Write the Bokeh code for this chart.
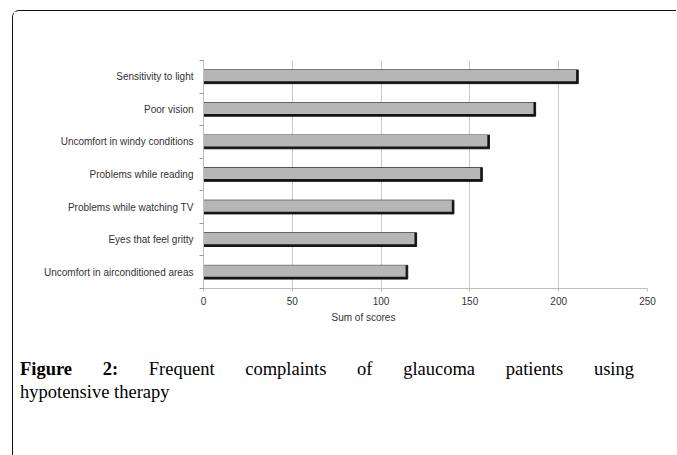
from bokeh.plotting import figure
from bokeh.models import Range1d, FixedTicker, Title, ColumnDataSource, Div
from bokeh.layouts import column
from bokeh.embed import file_html
from bokeh.resources import INLINE

categories = ["Sensitivity to light", "Poor vision", "Uncomfort in windy conditions",
              "Problems while reading", "Problems while watching TV",
              "Eyes that feel gritty", "Uncomfort in airconditioned areas"]
scores = [211, 187, 161, 157, 141, 120, 115]
x_ticks = [0, 50, 100, 150, 200, 250]
x_label = "Sum of scores"
caption_label = "Figure 2:"
caption_line1 = "Frequent complaints of glaucoma patients using"
caption_line2 = "hypotensive therapy"

PW, PH = 663, 322
n = len(categories)
centers = [n - i - 0.5 for i in range(n)]

bar_h = 0.42
src = ColumnDataSource(dict(
    y=centers, right=scores,
    top=[c + bar_h / 2 for c in centers],
    bottom=[c - bar_h / 2 + 0.07 for c in centers],
    gright=[s - 1.2 for s in scores],
))

p = figure(width=PW, height=PH, x_range=Range1d(0, 250), y_range=Range1d(0, n),
           output_backend="svg", toolbar_location=None,
           min_border_left=190, min_border_right=29, min_border_top=49, min_border_bottom=45)
p.outline_line_color = None
p.background_fill_color = "white"
p.border_fill_color = "white"

# bars: dark shadow + grey face
p.hbar(y="y", left=0, right="right", height=bar_h, source=src, color="#151515")
p.quad(left=0, right="gright", top="top", bottom="bottom", source=src,
       fill_color="#b6b6b6", line_color=None)

# grid
p.ygrid.visible = False
p.xgrid.ticker = FixedTicker(ticks=x_ticks)
p.xgrid.grid_line_color = "#c8c8c8"
p.xgrid.grid_line_width = 1

# x axis
xa = p.xaxis[0]
xa.ticker = FixedTicker(ticks=x_ticks)
xa.axis_line_color = "#bdbdbd"
xa.major_tick_line_color = "#bdbdbd"
xa.major_tick_out = 3
xa.major_tick_in = 0
xa.minor_tick_line_color = None
xa.major_label_standoff = 5
xa.major_label_text_font = "Liberation Sans"
xa.major_label_text_font_size = "10px"
xa.major_label_text_color = "#333333"

# y axis
ya = p.yaxis[0]
ya.ticker = FixedTicker(ticks=centers, minor_ticks=list(range(n + 1)))
ya.major_label_overrides = {c: name for c, name in zip(centers, categories)}
ya.major_tick_line_color = None
ya.major_tick_out = 0
ya.major_tick_in = 0
ya.minor_tick_line_color = "#9a9a9a"
ya.minor_tick_out = 4
ya.minor_tick_in = 0
ya.axis_line_color = "#bdbdbd"
ya.major_label_standoff = 6
ya.major_label_text_font = "Liberation Sans"
ya.major_label_text_font_size = "10px"
ya.major_label_text_color = "#333333"

# axis title, off-centre like the original
p.add_layout(Title(text=x_label, align="left", offset=128, standoff=5,
                   text_font="Liberation Sans", text_font_size="10px",
                   text_font_style="normal", text_color="#333333"), "below")

caption_html = (
    '<div style="width:614px; font-family:\'Liberation Serif\', serif; font-size:18.5px; '
    'line-height:23px; color:#000;">'
    '<div style="text-align:justify; text-align-last:justify;">'
    f'<b>{caption_label}</b> {caption_line1}</div>'
    f'<div>{caption_line2}</div></div>'
)
cap = Div(text=caption_html, width=640, height=118,
          styles={"padding-top": "20px", "padding-left": "2px", "box-sizing": "border-box"})

root = column(p, cap, spacing=0,
              styles={"margin-left": "12px", "margin-top": "10px",
                      "border-left": "1.4px solid #111", "border-top": "1.4px solid #111",
                      "border-top-left-radius": "7px"})

open("out.html", "w").write(file_html(root, INLINE))
